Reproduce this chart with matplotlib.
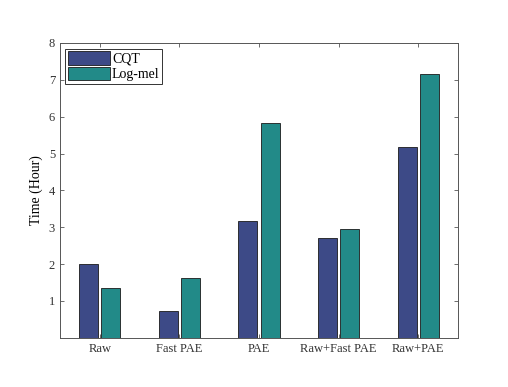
import matplotlib.pyplot as plt
import numpy as np

plt.rcParams['font.family'] = ['Liberation Serif', 'DejaVu Serif']

# Data
methods = ['Raw', 'Fast PAE', 'PAE', 'Raw+Fast PAE', 'Raw+PAE']
cqt = [2.0, 0.72, 3.18, 2.72, 5.18]
log_mel = [1.35, 1.62, 5.82, 2.96, 7.15]

fig = plt.figure(figsize=(5.08, 3.87), dpi=100)
ax = fig.add_axes([0.118, 0.127, 0.784, 0.762])

x = np.arange(1, len(methods) + 1)
w = 0.24
ax.bar(x - 0.14, cqt, w, color='#3d4a87', edgecolor='#1a1a1a', linewidth=0.6, label='CQT')
ax.bar(x + 0.14, log_mel, w, color='#228a88', edgecolor='#1a1a1a', linewidth=0.6, label='Log-mel')

ax.set_xlim(0.5, 5.5)
ax.set_ylim(0, 8)
ax.set_xticks(x)
ax.set_xticklabels(methods)
ax.set_yticks(range(1, 9))
ax.set_ylabel('Time (Hour)', fontsize=10)

for s in ax.spines.values():
    s.set_color('#555555')
    s.set_linewidth(0.7)
ax.tick_params(direction='in', top=True, right=True, length=3, width=0.6,
               colors='#555555', labelcolor='#333333', labelsize=9)

leg = ax.legend(loc='upper left', fontsize=10, fancybox=False, framealpha=1,
                edgecolor='#333333', borderpad=0.2, handlelength=3.0, handleheight=1.1,
                handletextpad=0.15, labelspacing=0.1, borderaxespad=0.4)
leg.get_frame().set_linewidth(0.7)

fig.savefig('out.png', dpi=100)
